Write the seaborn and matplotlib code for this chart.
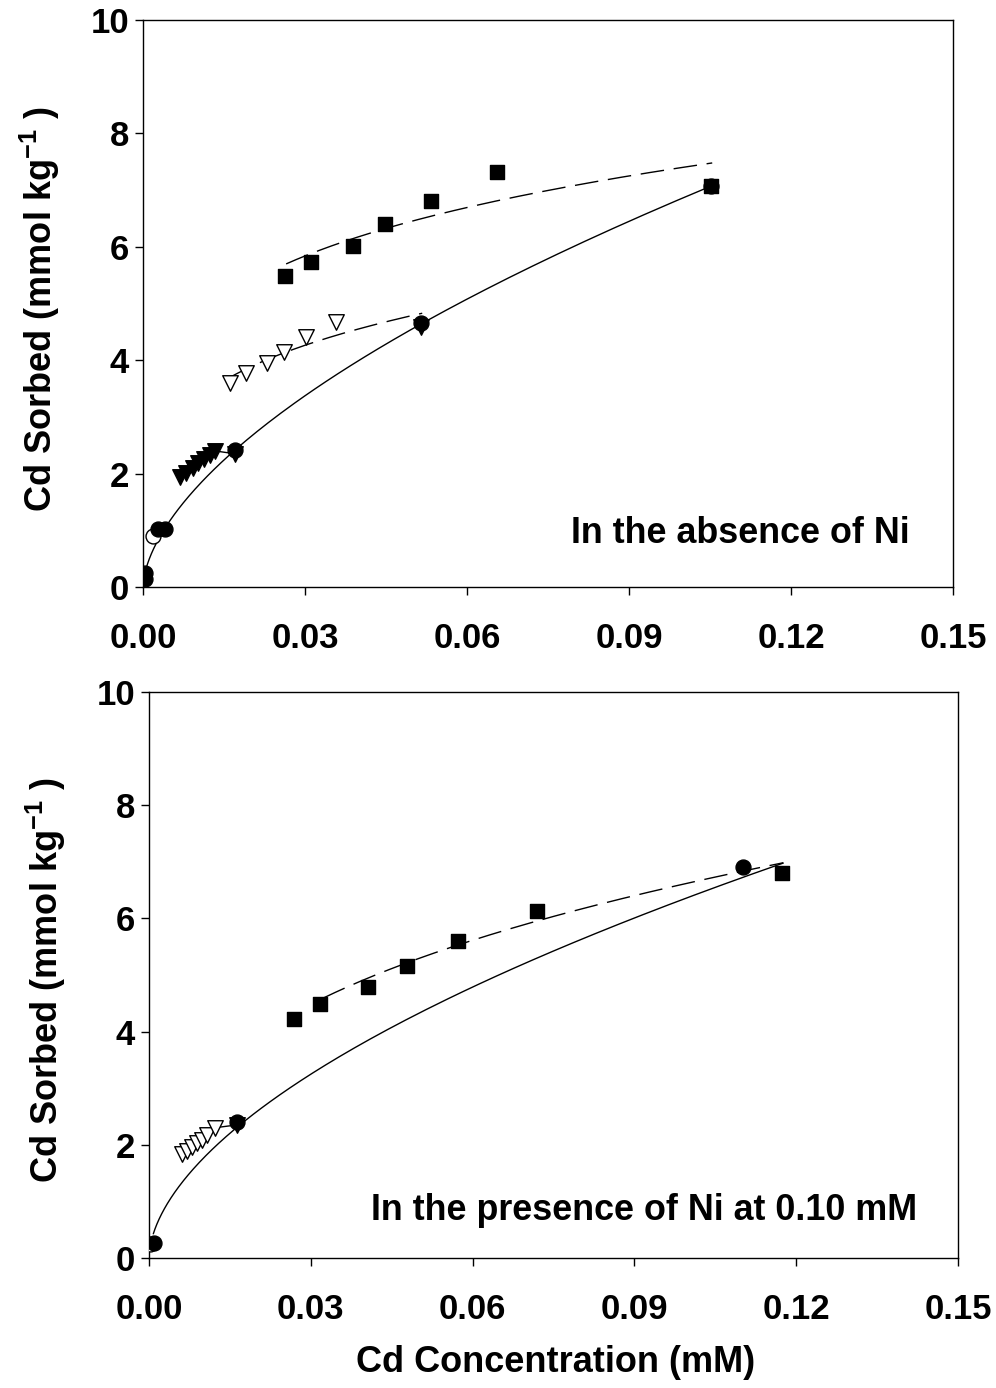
import numpy as np
import pandas as pd
import matplotlib
matplotlib.use("Agg")
import matplotlib.pyplot as plt
import seaborn as sns

# ---- Panel A: Cd sorption in the absence of Ni ----
top_circle_x = [0.0004, 0.0004, 0.0028, 0.0040, 0.0170, 0.0515, 0.1052]
top_circle_y = [0.14, 0.25, 1.02, 1.02, 2.42, 4.66, 7.08]
top_open_circle_x = [0.0019]
top_open_circle_y = [0.90]
top_tri_fill_x = [0.0069, 0.0080, 0.0093, 0.0102, 0.0113, 0.0124, 0.0133, 0.0170]
top_tri_fill_y = [1.94, 2.01, 2.10, 2.19, 2.26, 2.33, 2.40, 2.35]
top_tri_open_x = [0.0161, 0.0191, 0.0230, 0.0261, 0.0302, 0.0357]
top_tri_open_y = [3.60, 3.77, 3.95, 4.14, 4.41, 4.67]
top_tri_end_x = [0.0515]
top_tri_end_y = [4.58]
top_square_x = [0.0263, 0.0311, 0.0389, 0.0448, 0.0533, 0.0656, 0.1052]
top_square_y = [5.49, 5.73, 6.01, 6.40, 6.81, 7.32, 7.07]

# Freundlich fits q = K * C**n  (K, n, C_min, C_max)
top_fit_solid = (26.7, 0.590, 0.0002, 0.1052)
top_fit_tri = (9.50, 0.2285, 0.0161, 0.0517)
top_fit_square = (11.65, 0.197, 0.0265, 0.1054)

# ---- Panel B: Cd sorption with 0.10 mM Ni ----
bot_circle_x = [0.0009, 0.0163, 0.1101]
bot_circle_y = [0.27, 2.40, 6.91]
bot_open_circle_x = [0.0002]
bot_open_circle_y = [0.25]
bot_tri_open_x = [0.0061, 0.0070, 0.0080, 0.0089, 0.0098, 0.0108, 0.0122]
bot_tri_open_y = [1.84, 1.89, 1.96, 2.03, 2.08, 2.17, 2.30]
bot_tri_end_x = [0.0163]
bot_tri_end_y = [2.35]
bot_square_x = [0.0269, 0.0317, 0.0406, 0.0478, 0.0573, 0.0719, 0.1174]
bot_square_y = [4.22, 4.49, 4.79, 5.16, 5.60, 6.13, 6.80]

bot_fit_solid = (23.13, 0.560, 0.0008, 0.1176)
bot_fit_square = (13.98, 0.3244, 0.0323, 0.1176)

x_ticks = [0.00, 0.03, 0.06, 0.09, 0.12, 0.15]
y_ticks = [0, 2, 4, 6, 8, 10]
panel_notes = ["In the absence of Ni", "In the presence of Ni at 0.10 mM"]

sns.set_theme(style="ticks")
plt.rcParams["font.family"] = ["Liberation Sans", "DejaVu Sans"]
plt.rcParams["font.weight"] = "bold"
plt.rcParams["mathtext.fontset"] = "custom"
plt.rcParams["mathtext.rm"] = "Liberation Sans:bold"
plt.rcParams["mathtext.bf"] = "Liberation Sans:bold"
for key in ("text.color", "axes.labelcolor", "xtick.color", "ytick.color",
            "axes.edgecolor"):
    plt.rcParams[key] = "black"

FS_TICK = 25
FS_NOTE = 25.8
FS_LABEL = 26
SIZES = {"s": 100, "o": 115, "v": 125}  # marker areas (pt^2)
DASH = (0, (17, 7))

fig = plt.figure(figsize=(9.96, 13.88), dpi=100)
ax_top = fig.add_axes([0.1436, 0.5771, 0.8133, 0.4085])
ax_bot = fig.add_axes([0.1496, 0.0937, 0.8122, 0.4078])


def fit_curve(ax, params, style):
    k, n, c0, c1 = params
    c = np.geomspace(c0, c1, 200)
    sns.lineplot(x=c, y=k * c ** n, ax=ax, color="black", lw=1.0,
                 linestyle=style, estimator=None, sort=False, zorder=2)


def points(ax, xs, ys, marker, face, z):
    sns.scatterplot(x=xs, y=ys, ax=ax, marker=marker, s=SIZES[marker],
                    color=face, edgecolor="black", linewidth=1.0, zorder=z,
                    legend=False)


def style_axes(ax, note, note_xy):
    ax.set_xlim(0, 0.15)
    ax.set_ylim(0, 10)
    ax.set_xticks(x_ticks)
    ax.set_xticklabels([f"{t:.2f}" for t in x_ticks])
    ax.set_yticks(y_ticks)
    ax.set_yticklabels([str(t) for t in y_ticks])
    for sp in ax.spines.values():
        sp.set_visible(True)
        sp.set_linewidth(1.0)
        sp.set_color("black")
    ax.tick_params(axis="both", direction="out", length=6, width=1.0,
                   colors="black", labelcolor="black", labelsize=FS_TICK,
                   top=False, right=False)
    ax.tick_params(axis="x", pad=19)
    ax.tick_params(axis="y", pad=4)
    for lab in ax.get_xticklabels() + ax.get_yticklabels():
        lab.set_fontweight("bold")
    ax.set_ylabel(r"Cd Sorbed (mmol kg$^{\mathbf{-1}}$ )", fontsize=FS_LABEL,
                  fontweight="bold", color="black")
    ax.yaxis.set_label_coords(-0.127, 0.49)
    ax.text(note_xy[0], note_xy[1], note, transform=ax.transAxes,
            ha="right", va="center", fontsize=FS_NOTE, fontweight="bold",
            color="black")
    ax.set_facecolor("white")


# Panel A
fit_curve(ax_top, top_fit_solid, "-")
fit_curve(ax_top, top_fit_tri, DASH)
fit_curve(ax_top, top_fit_square, DASH)
sns.lineplot(x=top_tri_fill_x, y=top_tri_fill_y, ax=ax_top, color="black",
             lw=1.0, estimator=None, sort=False, zorder=2)
points(ax_top, top_tri_fill_x, top_tri_fill_y, "v", "black", 3)
points(ax_top, top_tri_end_x, top_tri_end_y, "v", "black", 3)
points(ax_top, top_tri_open_x, top_tri_open_y, "v", "white", 3)
points(ax_top, top_open_circle_x, top_open_circle_y, "o", "white", 4)
points(ax_top, top_circle_x, top_circle_y, "o", "black", 5)
points(ax_top, top_square_x, top_square_y, "s", "black", 6)
style_axes(ax_top, panel_notes[0], (0.946, 0.094))
ax_top.set_xlabel("")

# Panel B
fit_curve(ax_bot, bot_fit_solid, "-")
fit_curve(ax_bot, bot_fit_square, DASH)
sns.lineplot(x=bot_tri_open_x + bot_tri_end_x, y=bot_tri_open_y + bot_tri_end_y,
             ax=ax_bot, color="black", lw=1.0, estimator=None, sort=False,
             zorder=2)
points(ax_bot, bot_tri_end_x, bot_tri_end_y, "v", "black", 3)
points(ax_bot, bot_tri_open_x, bot_tri_open_y, "v", "white", 3)
points(ax_bot, bot_open_circle_x, bot_open_circle_y, "o", "white", 4)
points(ax_bot, bot_circle_x, bot_circle_y, "o", "black", 5)
points(ax_bot, bot_square_x, bot_square_y, "s", "black", 6)
style_axes(ax_bot, panel_notes[1], (0.949, 0.083))
ax_bot.set_xlabel("Cd Concentration (mM)", fontsize=FS_LABEL,
                  fontweight="bold", color="black")
ax_bot.xaxis.set_label_coords(0.502, -0.184)

for ax in (ax_top, ax_bot):
    ax.xaxis.label.set_va("center")
    ax.yaxis.label.set_va("center")

fig.savefig("out.png", dpi=100, facecolor="white")
